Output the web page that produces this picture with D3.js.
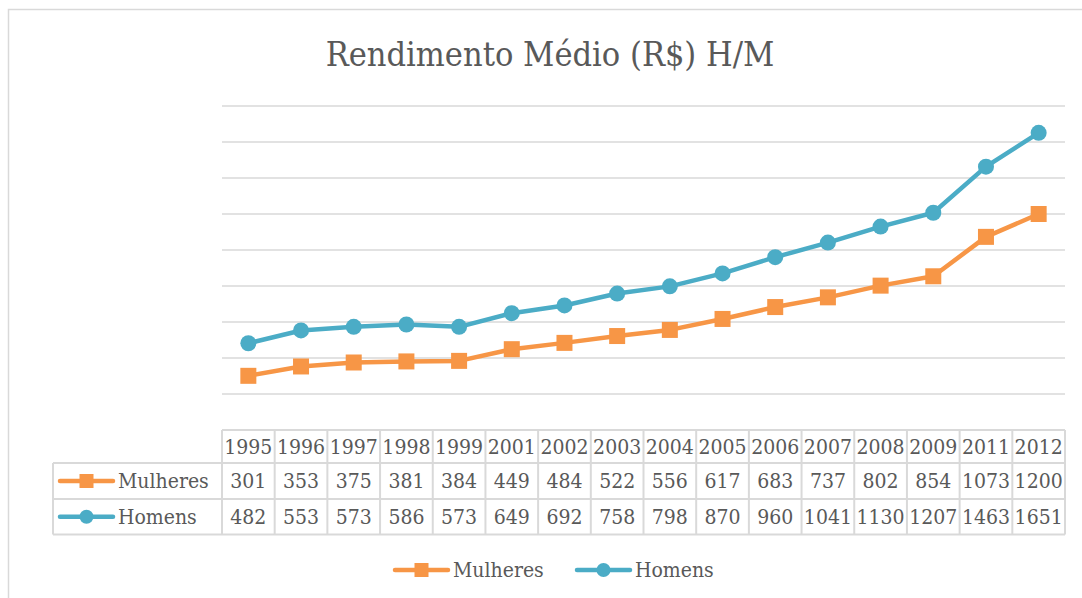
<!DOCTYPE html>
<html>
<head>
<meta charset="utf-8">
<script src="https://cdn.jsdelivr.net/npm/d3@7"></script>
<style>
  body { margin: 0; background: #fff; }
</style>
</head>
<body>
<div id="chart"></div>
<script>
// data
var years = ["1995", "1996", "1997", "1998", "1999", "2001", "2002", "2003", "2004", "2005", "2006", "2007", "2008", "2009", "2011", "2012"];
var mulheres = [301, 353, 375, 381, 384, 449, 484, 522, 556, 617, 683, 737, 802, 854, 1073, 1200];
var homens = [482, 553, 573, 586, 573, 649, 692, 758, 798, 870, 960, 1041, 1130, 1207, 1463, 1651];
var yTicks = [0, 200, 400, 600, 800, 1000, 1200, 1400, 1600, 1800];

var series = [
    { name: "Mulheres", values: mulheres, color: "#F79646", marker: "square" },
    { name: "Homens", values: homens, color: "#4BACC6", marker: "circle" }
];

var svgWidth = 1082, svgHeight = 598;
var gridColor = "#d9d9d9";
var fontFam = "DejaVu Serif Condensed, DejaVu Serif, serif";
var cellFont = "21px";

var svg = d3.select("#chart").append("svg")
    .attr("width", svgWidth)
    .attr("height", svgHeight)
    .attr("font-family", fontFam)
    .attr("font-stretch", "condensed")
    .attr("fill", "#595959");

// outer chart border (only left/top visible in frame)
svg.append("rect")
    .attr("x", 8.5).attr("y", 9.5)
    .attr("width", 1200).attr("height", 700)
    .attr("fill", "none")
    .attr("stroke", gridColor)
    .attr("stroke-width", 1.5);

// title
svg.append("text")
    .attr("x", 550).attr("y", 66)
    .attr("text-anchor", "middle")
    .attr("font-size", "34px")
    .text("Rendimento Médio (R$) H/M");

// scales
var plotLeft = 222, plotRight = 1065;
var xScale = d3.scaleBand()
    .domain(years)
    .range([plotLeft, plotRight]);

var yScale = d3.scaleLinear()
    .domain([0, 1800])
    .range([430, 106]);

// gridlines
svg.append("g").selectAll("line")
    .data(yTicks.slice(1))
    .enter()
    .append("line")
    .attr("x1", plotLeft).attr("x2", plotRight)
    .attr("y1", d => yScale(d)).attr("y2", d => yScale(d))
    .attr("stroke", gridColor)
    .attr("stroke-width", 1.5);

// lines + markers
var line = d3.line()
    .x((d, i) => xScale(years[i]) + xScale.bandwidth() / 2)
    .y(d => yScale(d));

series.forEach(function(s) {
    svg.append("path")
        .datum(s.values)
        .attr("d", line)
        .attr("fill", "none")
        .attr("stroke", s.color)
        .attr("stroke-width", 4.5)
        .attr("stroke-linejoin", "round");
});

series.forEach(function(s) {
    var g = svg.append("g");
    if (s.marker === "square") {
        g.selectAll("rect").data(s.values).enter().append("rect")
            .attr("x", (d, i) => xScale(years[i]) + xScale.bandwidth() / 2 - 8)
            .attr("y", d => yScale(d) - 8)
            .attr("width", 16).attr("height", 16)
            .attr("fill", s.color);
    } else {
        g.selectAll("circle").data(s.values).enter().append("circle")
            .attr("cx", (d, i) => xScale(years[i]) + xScale.bandwidth() / 2)
            .attr("cy", d => yScale(d))
            .attr("r", 8)
            .attr("fill", s.color);
    }
});

// data table
var tableLeft = 53;
var rowEdges = [430, 463, 499, 534.5];
var tbl = svg.append("g")
    .attr("stroke", gridColor)
    .attr("stroke-width", 2)
    .attr("fill", "none");

// horizontal lines
tbl.append("line").attr("x1", plotLeft).attr("x2", plotRight).attr("y1", rowEdges[0]).attr("y2", rowEdges[0]);
rowEdges.slice(1).forEach(function(y) {
    tbl.append("line").attr("x1", tableLeft).attr("x2", plotRight).attr("y1", y).attr("y2", y);
});
// vertical lines
tbl.append("line").attr("x1", tableLeft).attr("x2", tableLeft).attr("y1", rowEdges[1]).attr("y2", rowEdges[3]);
years.forEach(function(y) {
    var x = xScale(y);
    tbl.append("line").attr("x1", x).attr("x2", x).attr("y1", rowEdges[0]).attr("y2", rowEdges[3]);
});
tbl.append("line").attr("x1", plotRight).attr("x2", plotRight).attr("y1", rowEdges[0]).attr("y2", rowEdges[3]);

// header (years)
svg.append("g").selectAll("text")
    .data(years)
    .enter()
    .append("text")
    .attr("x", d => xScale(d) + xScale.bandwidth() / 2)
    .attr("y", 454)
    .attr("text-anchor", "middle")
    .attr("font-size", cellFont)
    .text(d => d);

// marker drawing helper for legends
function legendKey(g, s, x, y) {
    g.append("line")
        .attr("x1", x).attr("x2", x + 53)
        .attr("y1", y).attr("y2", y)
        .attr("stroke", s.color)
        .attr("stroke-width", 4.5)
        .attr("stroke-linecap", "round");
    if (s.marker === "square") {
        g.append("rect")
            .attr("x", x + 26.5 - 7).attr("y", y - 7)
            .attr("width", 14).attr("height", 14)
            .attr("fill", s.color);
    } else {
        g.append("circle")
            .attr("cx", x + 26.5).attr("cy", y)
            .attr("r", 7)
            .attr("fill", s.color);
    }
}

// value rows
series.forEach(function(s, r) {
    var midY = (rowEdges[r + 1] + rowEdges[r + 2]) / 2;
    var g = svg.append("g");
    legendKey(g, s, 60, midY);
    g.append("text")
        .attr("x", 118).attr("y", midY + 7)
        .attr("font-size", cellFont)
        .text(s.name);
    g.selectAll("text.val")
        .data(s.values)
        .enter()
        .append("text")
        .attr("class", "val")
        .attr("x", (d, i) => xScale(years[i]) + xScale.bandwidth() / 2)
        .attr("y", midY + 7)
        .attr("text-anchor", "middle")
        .attr("font-size", cellFont)
        .text(d => d);
});

// bottom legend
var legendX = [395, 577];
series.forEach(function(s, i) {
    var g = svg.append("g");
    legendKey(g, s, legendX[i], 570);
    g.append("text")
        .attr("x", legendX[i] + 58).attr("y", 577)
        .attr("font-size", cellFont)
        .text(s.name);
});
</script>
</body>
</html>
